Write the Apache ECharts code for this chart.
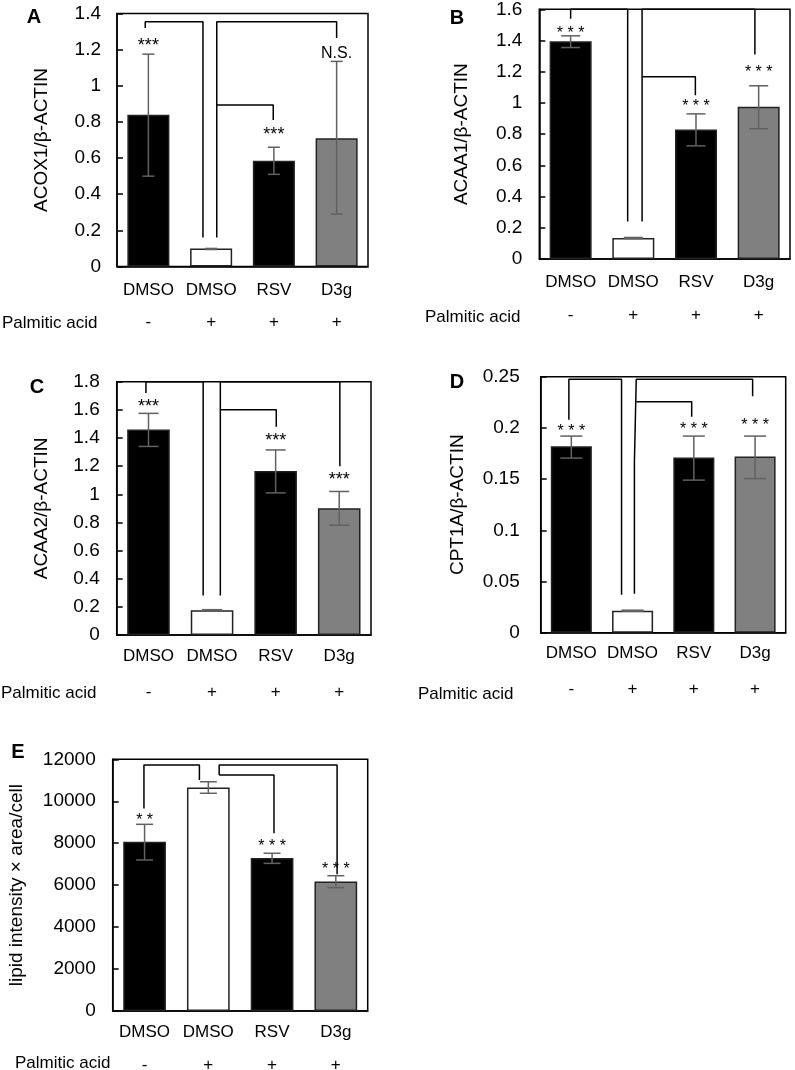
<!DOCTYPE html>
<html><head><meta charset="utf-8">
<script src="https://cdn.jsdelivr.net/npm/echarts@6/dist/echarts.min.js"></script>
<style>html,body{margin:0;padding:0;background:#fff}#c{width:795px;height:1070px}</style>
</head><body><div id="c"></div>
<script>
// ---------- data ----------
const categories = ['DMSO', 'DMSO', 'RSV', 'D3g'];
const palmiticAcid = ['-', '+', '+', '+'];
const barColors = ['#000000', '#ffffff', '#000000', '#808080'];

// A: ACOX1
const acox1Mean = [0.84, 0.10, 0.585, 0.71];
const acox1Low  = [0.50, 0.094, 0.51, 0.29];
const acox1High = [1.175, 0.10, 0.66, 1.135];
const acox1Sig  = ['***', '', '***', 'N.S.'];
const acox1SigY = [1.24, null, 0.75, 1.18];
const acox1Brackets = [
  [[-0.05, 1.32], [-0.05, 1.355], [0.87, 1.355], [0.87, 0.16]],
  [[1.09, 0.16], [1.09, 1.355], [3.0, 1.355], [3.0, 1.265]],
  [[1.09, 0.894], [1.99, 0.894], [1.99, 0.81]]
];

// B: ACAA1
const acaa1Mean = [1.395, 0.135, 0.83, 0.975];
const acaa1Low  = [1.355, 0.131, 0.725, 0.835];
const acaa1High = [1.43, 0.138, 0.93, 1.11];
const acaa1Sig  = ['* * *', '', '* * *', '* * *'];
const acaa1SigY = [1.467, null, 0.997, 1.22];
const acaa1Brackets = [
  [[0.0, 1.54], [0.0, 1.6], [0.91, 1.6], [0.91, 0.24]],
  [[1.14, 0.24], [1.14, 1.6], [2.94, 1.6], [2.94, 1.31]],
  [[1.14, 1.168], [1.99, 1.168], [1.99, 1.05]]
];

// C: ACAA2
const acaa2Mean = [1.46, 0.175, 1.165, 0.90];
const acaa2Low  = [1.34, 0.17, 1.01, 0.78];
const acaa2High = [1.575, 0.18, 1.315, 1.02];
const acaa2Sig  = ['***', '', '***', '***'];
const acaa2SigY = [1.651, null, 1.409, 1.132];
const acaa2Brackets = [
  [[-0.04, 1.72], [-0.04, 1.8], [0.86, 1.8], [0.86, 0.28]],
  [[1.13, 0.28], [1.13, 1.8], [3.01, 1.8], [3.01, 1.2]],
  [[1.13, 1.6], [2.01, 1.6], [2.01, 1.48]]
];

// D: CPT1A
const cpt1aMean = [0.182, 0.0215, 0.171, 0.172];
const cpt1aLow  = [0.1705, 0.021, 0.149, 0.1505];
const cpt1aHigh = [0.192, 0.022, 0.192, 0.192];
const cpt1aSig  = ['* * *', '', '* * *', '* * *'];
const cpt1aSigY = [0.1996, null, 0.2021, 0.2055];
const cpt1aBrackets = [
  [[-0.04, 0.208], [-0.04, 0.2475], [0.82, 0.2475], [0.82, 0.037]],
  [[1.03, 0.038], [1.03, 0.167], [1.06, 0.167], [1.06, 0.2475], [2.96, 0.2475], [2.96, 0.231]],
  [[1.06, 0.2256], [1.965, 0.2256], [1.965, 0.211]]
];

// E: lipid
const lipidMean = [8070, 10650, 7300, 6170];
const lipidLow  = [7200, 10380, 7040, 5880];
const lipidHigh = [8900, 10930, 7520, 6450];
const lipidSig  = ['* *', '', '* * *', '* * *'];
const lipidSigY = [9263, null, 8024, 6927];
const lipidBrackets = [
  [[-0.01, 9660], [-0.01, 11730], [0.86, 11730], [0.86, 11010]],
  [[1.17, 11250], [1.17, 11730], [3.02, 11730], [3.02, 6520]],
  [[1.17, 11250], [2.03, 11250], [2.03, 8470]]
];

const panelLetters = ['A', 'B', 'C', 'D', 'E'];
const yTitles = ['ACOX1/β-ACTIN', 'ACAA1/β-ACTIN', 'ACAA2/β-ACTIN', 'CPT1A/β-ACTIN', 'lipid intensity × area/cell'];
const yMax = [1.4, 1.6, 1.8, 0.25, 12000];
const yInterval = [0.2, 0.2, 0.2, 0.05, 2000];
const rowLabel = 'Palmitic acid';

// ---------- layout ----------
const FONT = '"Liberation Sans", Arial, sans-serif';
const grids = [
  {left: 117, top: 13.5, width: 251, height: 253},
  {left: 539.3, top: 9.3, width: 250.7, height: 249.7},
  {left: 116.7, top: 381.7, width: 254.3, height: 253.3},
  {left: 540.7, top: 376.7, width: 245, height: 256},
  {left: 112.7, top: 759.3, width: 255, height: 251.7}
];
const nameGap = [66, 68, 65, 73, 86];
const yLabelMargin = [16, 17, 17, 21, 17];
const catMargin = [15, 15, 12.5, 12, 12.5];
const signMargin = [47, 47.5, 48.5, 48.5, 45.5];
const capWidth = [12, 19, 20, 22, 17];
const sigFont = [18, 16, 18, 16, 16];
const letterPos = [[34, 17], [457, 18], [37, 387], [457, 382], [18, 752]];
const rowLabelPos = [[2, 323], [425, 317], [1, 693], [418, 694], [15, 1063]];

const panels = [
  {mean: acox1Mean, low: acox1Low, high: acox1High, sig: acox1Sig, sigY: acox1SigY, br: acox1Brackets},
  {mean: acaa1Mean, low: acaa1Low, high: acaa1High, sig: acaa1Sig, sigY: acaa1SigY, br: acaa1Brackets},
  {mean: acaa2Mean, low: acaa2Low, high: acaa2High, sig: acaa2Sig, sigY: acaa2SigY, br: acaa2Brackets},
  {mean: cpt1aMean, low: cpt1aLow, high: cpt1aHigh, sig: cpt1aSig, sigY: cpt1aSigY, br: cpt1aBrackets},
  {mean: lipidMean, low: lipidLow, high: lipidHigh, sig: lipidSig, sigY: lipidSigY, br: lipidBrackets}
];

const option = {
  animation: false,
  backgroundColor: '#fff',
  textStyle: {fontFamily: FONT},
  grid: [], xAxis: [], yAxis: [], series: [], graphic: []
};

panels.forEach((p, g) => {
  option.grid.push(Object.assign({show: true, borderColor: '#000', borderWidth: 1.5,
    backgroundColor: 'transparent', containLabel: false, outerBoundsMode: 'none'}, grids[g]));
  option.xAxis.push({
    type: 'category', gridIndex: g, data: categories, position: 'bottom',
    axisLine: {show: true, onZero: false, lineStyle: {color: '#000', width: 1.5}},
    axisTick: {show: false}, splitLine: {show: false},
    axisLabel: {margin: catMargin[g], fontSize: 17, color: '#000', fontFamily: FONT, interval: 0}
  });
  option.xAxis.push({
    type: 'category', gridIndex: g, data: palmiticAcid, position: 'bottom',
    axisLine: {show: false, onZero: false}, axisTick: {show: false}, splitLine: {show: false},
    axisLabel: {margin: signMargin[g], fontSize: 17, color: '#000', fontFamily: FONT, interval: 0}
  });
  option.xAxis.push({type: 'value', gridIndex: g, min: -0.5, max: 3.5, show: false, position: 'top',
    axisLine: {onZero: false}});
  option.yAxis.push({
    type: 'value', gridIndex: g, min: 0, max: yMax[g], interval: yInterval[g], position: 'left',
    name: yTitles[g], nameLocation: 'middle', nameGap: nameGap[g], nameRotate: 90,
    nameTextStyle: {fontSize: 19, color: '#000', fontFamily: FONT},
    axisLine: {show: true, onZero: false, lineStyle: {color: '#000', width: 1.5}},
    axisTick: {show: true, inside: true, length: 6, lineStyle: {color: '#000', width: 1.5}},
    splitLine: {show: false},
    axisLabel: {margin: yLabelMargin[g], fontSize: 19, color: '#000', fontFamily: FONT,
      formatter: v => String(+(+v).toFixed(4))}
  });
  const xc = 3 * g, xv = 3 * g + 2;
  option.series.push({
    type: 'bar', xAxisIndex: xc, yAxisIndex: g, barWidth: '67%', z: 2,
    itemStyle: {borderColor: '#222', borderWidth: 1.5},
    data: p.mean.map((v, i) => ({value: v, itemStyle: {color: barColors[i]}}))
  });
  const cap = capWidth[g];
  option.series.push({
    type: 'custom', xAxisIndex: xc, yAxisIndex: g, z: 3,
    data: p.mean.map((v, i) => [i, p.low[i], p.high[i]]),
    renderItem: (params, api) => {
      const lo = api.coord([api.value(0), api.value(1)]);
      const hi = api.coord([api.value(0), api.value(2)]);
      const h = cap / 2;
      const st = {stroke: '#616161', lineWidth: 1.5};
      return {type: 'group', children: [
        {type: 'line', shape: {x1: lo[0], y1: lo[1], x2: hi[0], y2: hi[1]}, style: st},
        {type: 'line', shape: {x1: lo[0] - h, y1: lo[1], x2: lo[0] + h, y2: lo[1]}, style: st},
        {type: 'line', shape: {x1: hi[0] - h, y1: hi[1], x2: hi[0] + h, y2: hi[1]}, style: st}
      ]};
    }
  });
  p.br.forEach(b => option.series.push({
    type: 'line', xAxisIndex: xv, yAxisIndex: g, z: 4, symbol: 'none', clip: false,
    lineStyle: {color: '#000', width: 1.5}, data: b
  }));
  const sigIdx = p.sig.map((t, i) => i).filter(i => p.sig[i]);
  const fs = sigFont[g];
  option.series.push({
    type: 'custom', xAxisIndex: xc, yAxisIndex: g, z: 5,
    data: sigIdx.map(i => [i, p.sigY[i]]),
    renderItem: (params, api) => {
      const i = api.value(0);
      const t = p.sig[i];
      const pt = api.coord([i, api.value(1)]);
      const star = t.indexOf('*') >= 0;
      return {type: 'text', x: pt[0], y: pt[1] + (star ? fs * 0.22 : 0),
        style: {text: t, fontSize: star ? fs : 16, fontFamily: FONT, fill: '#000', align: 'center', verticalAlign: 'middle'}};
    }
  });
  option.graphic.push({type: 'text', x: letterPos[g][0], y: letterPos[g][1],
    style: {text: panelLetters[g], fontSize: 20, fontWeight: 'bold', fontFamily: FONT, fill: '#000',
      align: 'center', verticalAlign: 'middle'}});
  option.graphic.push({type: 'text', x: rowLabelPos[g][0], y: rowLabelPos[g][1],
    style: {text: rowLabel, fontSize: 17, fontFamily: FONT, fill: '#000', align: 'left', verticalAlign: 'middle'}});
});

const chart = echarts.init(document.getElementById('c'), null, {renderer: 'canvas'});
chart.setOption(option);
</script>
</body></html>
